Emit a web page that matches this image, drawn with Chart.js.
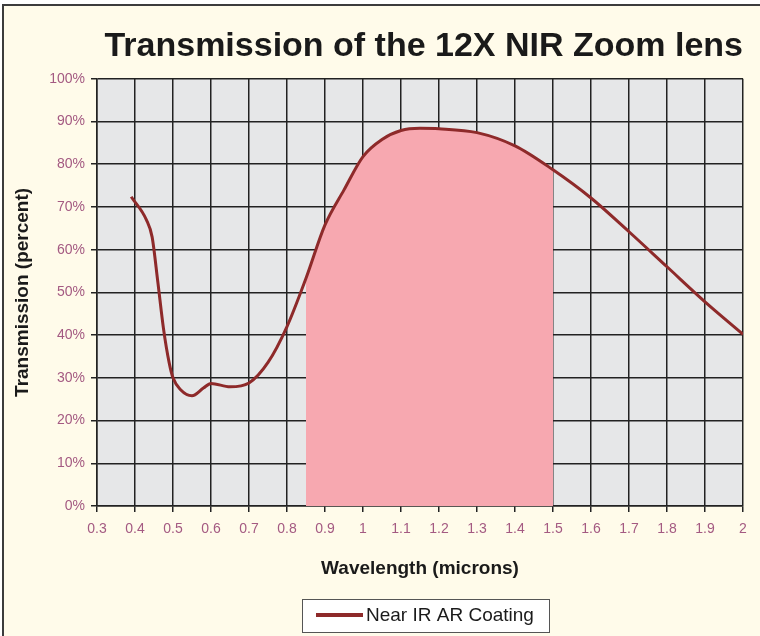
<!DOCTYPE html>
<html>
<head>
<meta charset="utf-8">
<script src="https://cdn.jsdelivr.net/npm/chart.js@4"></script>
<style>
  body { margin: 0; background: #ffffff; overflow: hidden; }
  #frame { position: absolute; left: 2px; top: 4px; width: 800px; height: 700px;
           background: #fffbea; border: 2px solid #3c3c3c; }
  #wrap { position: absolute; left: 0; top: 0; width: 760px; height: 636px; }
</style>
</head>
<body>
<div id="frame"></div>
<div id="wrap"><canvas id="chart" width="760" height="636"></canvas></div>
<script>
// data
let wavelength = [0.39, 0.43, 0.445, 0.46, 0.475, 0.49, 0.5, 0.52, 0.55, 0.58, 0.6, 0.65, 0.7, 0.75, 0.8,
    0.85, 0.9, 0.95, 1.0, 1.05, 1.1, 1.15, 1.2, 1.3, 1.4, 1.5,
    1.6, 1.7, 1.8, 1.9, 2.0]
let transmission = [72.4, 67, 63, 52.5, 41.5, 33.5, 30, 27.2, 25.8, 27.6, 28.7, 27.9, 28.8, 33.6, 42,
    53.3, 65.8, 74, 81.8, 85.8, 87.9, 88.4, 88.3, 87.4, 84.3, 78.7,
    72.1, 64.2, 56, 47.8, 40.2]
let seriesName = "Near IR AR Coating"
let fillFrom = 0.85 // shaded band
let fillTo = 1.5

let xMin = 0.3, xMax = 2.0, xStep = 0.1
let yMin = 0, yMax = 100, yStep = 10

let fontFamily = "'Liberation Sans', Arial, sans-serif"
let tickColor = "#a45a82"
let lineColor = "#8e2a2a"

let linePoints = wavelength.map((w, i) => ({x: w, y: transmission[i]}))
let bandPoints = linePoints.filter(p => p.x >= fillFrom - 1e-9 && p.x <= fillTo + 1e-9)

// grey plot background
const plotBackground = {
    id: 'plotBackground',
    beforeDraw(chart) {
        const {ctx, chartArea} = chart
        ctx.save()
        ctx.fillStyle = "#e6e7e8"
        ctx.fillRect(chartArea.left, chartArea.top, chartArea.right - chartArea.left, chartArea.bottom - chartArea.top)
        ctx.restore()
    }
}

// boxed legend under the axis title
const boxLegend = {
    id: 'boxLegend',
    afterDraw(chart) {
        const ctx = chart.ctx
        ctx.save()
        ctx.fillStyle = "#ffffff"
        ctx.fillRect(302, 599, 247, 33)
        ctx.strokeStyle = "#555555"
        ctx.lineWidth = 1
        ctx.strokeRect(302.5, 599.5, 247, 33)
        ctx.strokeStyle = lineColor
        ctx.lineWidth = 4
        ctx.beginPath()
        ctx.moveTo(316, 615)
        ctx.lineTo(363, 615)
        ctx.stroke()
        ctx.fillStyle = "#1a1a1a"
        ctx.font = "19px " + fontFamily
        ctx.textBaseline = "middle"
        ctx.fillText(chart.data.datasets[0].label, 366, 616)
        ctx.restore()
    }
}

let theChart = new Chart(document.getElementById("chart"), {
    type: 'line',
    data: {
        datasets: [
            {
                label: seriesName,
                data: linePoints,
                borderColor: lineColor,
                borderWidth: 3,
                pointRadius: 0,
                cubicInterpolationMode: 'monotone',
                fill: false
            },
            {
                label: 'band',
                data: bandPoints,
                borderWidth: 0,
                borderColor: 'rgba(0,0,0,0)',
                backgroundColor: "#f7a8b0",
                pointRadius: 0,
                cubicInterpolationMode: 'monotone',
                fill: 'origin'
            }
        ]
    },
    options: {
        responsive: false,
        animation: false,
        layout: { padding: {left: 4, right: 17, top: 9, bottom: 56} },
        plugins: {
            legend: { display: false },
            tooltip: { enabled: false },
            title: {
                display: true,
                text: 'Transmission of the 12X NIR Zoom lens',
                align: 'end',
                color: '#1a1a1a',
                font: {family: fontFamily, size: 34, weight: 'bold'},
                padding: {top: 17, bottom: 12}
            }
        },
        scales: {
            x: {
                type: 'linear',
                min: xMin,
                max: xMax,
                afterFit: s => { s.height = 74 },
                ticks: {
                    stepSize: xStep,
                    autoSkip: false,
                    maxRotation: 0,
                    padding: 9,
                    color: tickColor,
                    font: {family: fontFamily, size: 14},
                    callback: v => String(Number(v.toFixed(1)))
                },
                grid: { color: '#222222', lineWidth: 1.5, tickLength: 6 },
                border: { color: '#222222', width: 1.5 },
                title: {
                    display: true,
                    text: 'Wavelength (microns)',
                    color: '#1a1a1a',
                    font: {family: fontFamily, size: 19, weight: 'bold'},
                    padding: {top: 0, bottom: 0}
                }
            },
            y: {
                min: yMin,
                max: yMax,
                afterFit: s => { s.width = 93 },
                ticks: {
                    stepSize: yStep,
                    padding: 6,
                    color: tickColor,
                    font: {family: fontFamily, size: 14},
                    callback: v => v + '%'
                },
                grid: { color: '#222222', lineWidth: 1.5, tickLength: 6 },
                border: { color: '#222222', width: 1.5 },
                title: {
                    display: true,
                    text: 'Transmission (percent)',
                    color: '#1a1a1a',
                    font: {family: fontFamily, size: 19, weight: 'bold'},
                    padding: {top: 7, bottom: 0}
                }
            }
        }
    },
    plugins: [plotBackground, boxLegend]
});
</script>
</body>
</html>
